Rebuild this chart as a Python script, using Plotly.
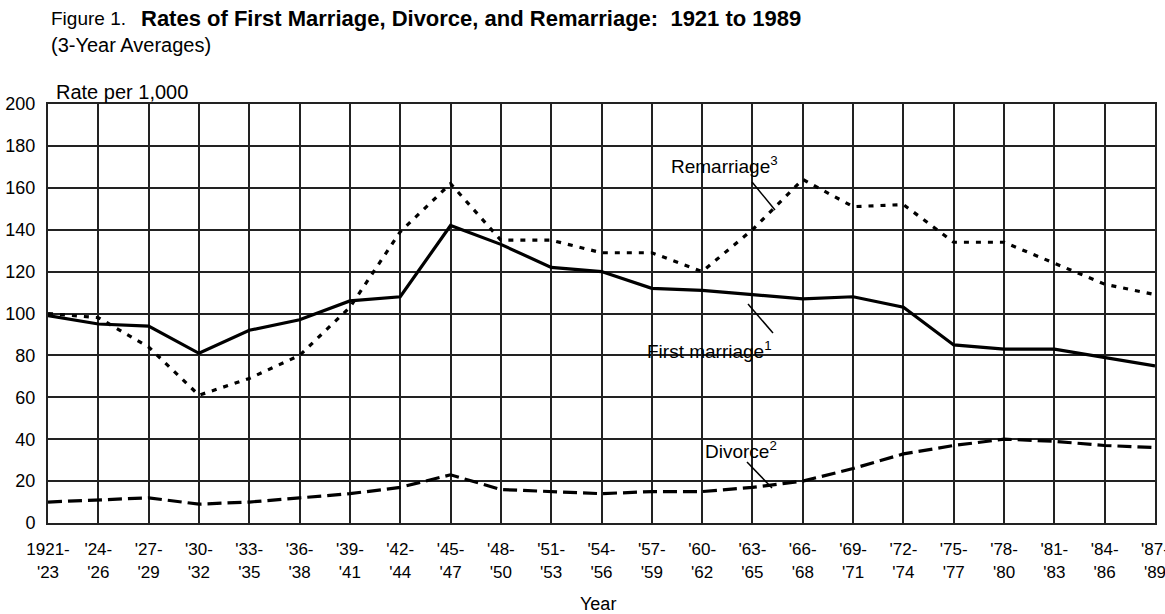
import plotly.graph_objects as go

periods = ["1921-<br>'23", "'24-<br>'26", "'27-<br>'29", "'30-<br>'32", "'33-<br>'35", "'36-<br>'38",
           "'39-<br>'41", "'42-<br>'44", "'45-<br>'47", "'48-<br>'50", "'51-<br>'53", "'54-<br>'56",
           "'57-<br>'59", "'60-<br>'62", "'63-<br>'65", "'66-<br>'68", "'69-<br>'71", "'72-<br>'74",
           "'75-<br>'77", "'78-<br>'80", "'81-<br>'83", "'84-<br>'86", "'87-<br>'89"]

first_marriage = [99, 95, 94, 81, 92, 97, 106, 108, 142, 133, 122, 120, 112, 111, 109, 107, 108, 103, 85, 83, 83, 79, 75]
remarriage = [100, 98, 84, 61, 69, 80, 103, 139, 162, 135, 135, 129, 129, 120, 140, 164, 151, 152, 134, 134, 124, 114, 109]
divorce = [10, 11, 12, 9, 10, 12, 14, 17, 23, 16, 15, 14, 15, 15, 17, 20, 26, 33, 37, 40, 39, 37, 36]

y_ticks = list(range(0, 201, 20))

W, H = 1165, 614
L, R, T, B = 48, 10, 104, 91
PW = W - L - R
PH = H - T - B

def px(x):
    return (x - L) / PW

def py(y):
    return (H - B - y) / PH

FONT = "Liberation Sans, Arial, Helvetica, sans-serif"
idx = list(range(len(periods)))

fig = go.Figure()
fig.add_trace(go.Scatter(x=idx, y=remarriage, mode="lines", name="Remarriage",
                         line=dict(color="black", width=3.2, dash="5px,7px")))
fig.add_trace(go.Scatter(x=idx, y=first_marriage, mode="lines", name="First marriage",
                         line=dict(color="black", width=3.2)))
fig.add_trace(go.Scatter(x=idx, y=divorce, mode="lines", name="Divorce",
                         line=dict(color="black", width=3.2, dash="14px,6px")))

shapes = []
# white boxes that interrupt the grid behind the labels
for (x0, y0, x1, y1) in [(655, 135, 795, 185), (636, 333, 790, 368), (690, 433, 795, 467)]:
    shapes.append(dict(type="rect", xref="paper", yref="paper", layer="between",
                       x0=px(x0), x1=px(x1), y0=py(y1), y1=py(y0),
                       fillcolor="white", line=dict(width=0)))
# leader lines
for (x0, y0, x1, y1) in [(752, 182, 775, 210), (748, 304, 773, 333), (747, 462, 772, 488)]:
    shapes.append(dict(type="line", xref="paper", yref="paper", layer="above",
                       x0=px(x0), x1=px(x1), y0=py(y0), y1=py(y1),
                       line=dict(color="black", width=1.5)))

annotations = [
    dict(text="Figure 1.", x=px(49), y=py(19), xanchor="left", yanchor="middle",
         font=dict(size=19)),
    dict(text="<b>Rates of First Marriage, Divorce, and Remarriage:  1921 to 1989</b>",
         x=px(139), y=py(19), xanchor="left", yanchor="middle", font=dict(size=22)),
    dict(text="(3-Year Averages)", x=px(49), y=py(45), xanchor="left", yanchor="middle",
         font=dict(size=20)),
    dict(text="Rate per 1,000", x=px(54), y=py(92), xanchor="left", yanchor="middle",
         font=dict(size=20)),
    dict(text="Year", x=px(598), y=py(604), xanchor="center", yanchor="middle",
         font=dict(size=18)),
    dict(text="Remarriage<sup>3</sup>", x=px(724), y=py(165), xanchor="center", yanchor="middle",
         font=dict(size=19)),
    dict(text="First marriage<sup>1</sup>", x=px(709), y=py(350), xanchor="center", yanchor="middle",
         font=dict(size=19)),
    dict(text="Divorce<sup>2</sup>", x=px(741), y=py(450), xanchor="center", yanchor="middle",
         font=dict(size=19)),
]
for a in annotations:
    a.update(xref="paper", yref="paper", showarrow=False)
    a["font"].update(family=FONT, color="black")

fig.update_layout(
    width=W, height=H,
    margin=dict(l=L, r=R, t=T, b=B, pad=0),
    paper_bgcolor="white", plot_bgcolor="white",
    showlegend=False,
    font=dict(family=FONT, color="black", size=16),
    shapes=shapes, annotations=annotations,
)
fig.update_xaxes(
    range=[0, len(periods) - 1], tickmode="array", tickvals=idx, ticktext=periods,
    showgrid=True, gridcolor="#222", gridwidth=1.6,
    showline=True, linecolor="#222", linewidth=2, mirror=True,
    ticks="", ticklabelstandoff=10, tickangle=0, automargin=False,
    ticklabeloverflow="allow",
    tickfont=dict(size=17, family=FONT, color="black"), zeroline=False,
)
fig.update_yaxes(
    range=[0, 200], tickmode="array", tickvals=y_ticks,
    showgrid=True, gridcolor="#222", gridwidth=1.6,
    showline=True, linecolor="#222", linewidth=2, mirror=True,
    ticks="", ticklabelstandoff=7, automargin=False,
    tickfont=dict(size=18, family=FONT, color="black"), zeroline=False,
)

fig.write_html("out.html", config={"displayModeBar": False},
               post_script="document.body.style.margin='0';document.body.style.overflow='hidden';")
